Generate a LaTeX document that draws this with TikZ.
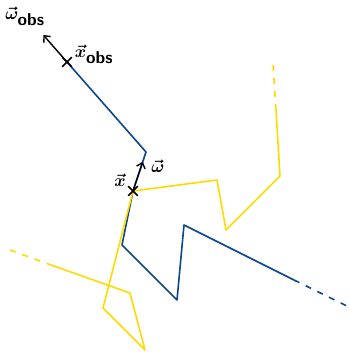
\documentclass[tikz,border=0pt]{standalone}
\usetikzlibrary{arrows.meta,calc,shapes.misc}
\begin{document}
\begin{tikzpicture}[x=1pt,y=-1pt,
  bluepath/.style={draw={rgb,255:red,14;green,70;blue,140}, line width=1.6pt, line join=round},
  yellowpath/.style={draw={rgb,255:red,255;green,218;blue,0}, line width=1.6pt, line join=round},
  dashpart/.style={dash pattern=on 6pt off 7pt},
  vecarrow/.style={draw=black, line width=1.4pt, -{Straight Barb[length=5pt,width=9pt,line width=1.4pt]}},
  hitmark/.style={cross out, draw=black, line width=1.6pt, minimum size=8pt, inner sep=0pt},
  lbl/.style={font=\LARGE\boldmath, inner sep=1pt}]
\useasboundingbox (0,0) rectangle (349,356);
% blue path points
\coordinate (xobs) at (67,62);
\coordinate (b1) at (146,152);
\coordinate (x) at (133,191);
\coordinate (b2) at (122,245);
\coordinate (b3) at (177,300);
\coordinate (b4) at (184,225);
\coordinate (b5) at (294,280);
\coordinate (bend) at (349,307);
% yellow path points
\coordinate (y0) at (10,250);
\coordinate (y1) at (51,265);
\coordinate (y2) at (130,293);
\coordinate (y3) at (145,350);
\coordinate (y4) at (103,308);
\coordinate (y5) at (217,180);
\coordinate (y6) at (226,230);
\coordinate (y7) at (280,176);
\coordinate (y8) at (276,110);
\coordinate (y9) at (273,64);
% blue
\draw[bluepath] (xobs) -- (b1) -- (x) -- (b2) -- (b3) -- (b4) -- (b5);
\draw[bluepath, dashpart] (b5) -- (bend);
% yellow
\draw[yellowpath, dashpart] (y0) -- (y1);
\draw[yellowpath] (y1) -- (y2) -- (y3) -- (y4) -- (x) -- (y5) -- (y6) -- (y7) -- (y8);
\draw[yellowpath, dashpart] (y8) -- (y9);
% vectors
\coordinate (wobstip) at ($(xobs)!-0.3!(b1)$);
\coordinate (wtip) at ($(x)!0.75!(b1)$);
\draw[vecarrow] (xobs) -- (wobstip);
\draw[vecarrow] (x) -- (wtip);
% marks
\node[hitmark] (mxobs) at (xobs) {};
\node[hitmark] (mx) at (x) {};
% labels
\node[lbl] (lwobs) at (25,16) {$\vec{\omega}_{\textsf{\textbf{obs}}}$};
\node[lbl] (lxobs) at (94,54) {$\vec{x}_{\textsf{\textbf{obs}}}$};
\node[lbl] (lx) at (120,180) {$\vec{x}$};
\node[lbl] (lw) at (158,166) {$\vec{\omega}$};
\end{tikzpicture}
\end{document}
